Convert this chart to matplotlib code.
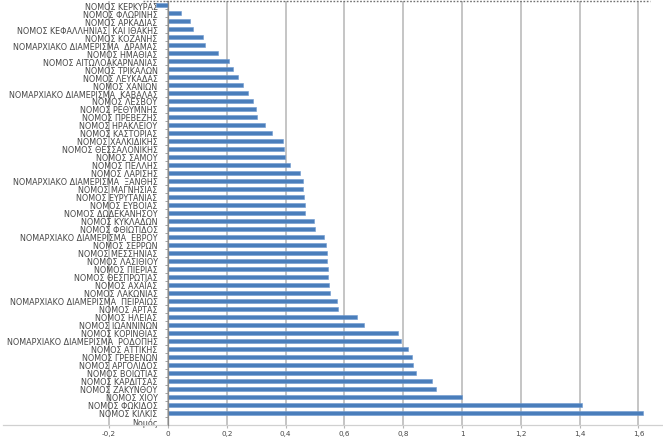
import matplotlib
matplotlib.use("Agg")
import matplotlib.pyplot as plt
from matplotlib.lines import Line2D
from matplotlib.ticker import FixedLocator
import numpy as np

categories = [
    "ΝΟΜΟΣ ΚΕΡΚΥΡΑΣ",
    "ΝΟΜΟΣ ΦΛΩΡΙΝΗΣ",
    "ΝΟΜΟΣ ΑΡΚΑΔΙΑΣ",
    "ΝΟΜΟΣ ΚΕΦΑΛΛΗΝΙΑΣ  ΚΑΙ ΙΘΑΚΗΣ",
    "ΝΟΜΟΣ ΚΟΖΑΝΗΣ",
    "ΝΟΜΑΡΧΙΑΚΟ ΔΙΑΜΕΡΙΣΜΑ  ΔΡΑΜΑΣ",
    "ΝΟΜΟΣ ΗΜΑΘΙΑΣ",
    "ΝΟΜΟΣ ΑΙΤΩΛΟΑΚΑΡΝΑΝΙΑΣ",
    "ΝΟΜΟΣ ΤΡΙΚΑΛΩΝ",
    "ΝΟΜΟΣ ΛΕΥΚΑΔΑΣ",
    "ΝΟΜΟΣ ΧΑΝΙΩΝ",
    "ΝΟΜΑΡΧΙΑΚΟ ΔΙΑΜΕΡΙΣΜΑ  ΚΑΒΑΛΑΣ",
    "ΝΟΜΟΣ ΛΕΣΒΟΥ",
    "ΝΟΜΟΣ ΡΕΘΥΜΝΗΣ",
    "ΝΟΜΟΣ ΠΡΕΒΕΖΗΣ",
    "ΝΟΜΟΣ ΗΡΑΚΛΕΙΟΥ",
    "ΝΟΜΟΣ ΚΑΣΤΟΡΙΑΣ",
    "ΝΟΜΟΣ ΧΑΛΚΙΔΙΚΗΣ",
    "ΝΟΜΟΣ ΘΕΣΣΑΛΟΝΙΚΗΣ",
    "ΝΟΜΟΣ ΣΑΜΟΥ",
    "ΝΟΜΟΣ ΠΕΛΛΗΣ",
    "ΝΟΜΟΣ ΛΑΡΙΣΗΣ",
    "ΝΟΜΑΡΧΙΑΚΟ ΔΙΑΜΕΡΙΣΜΑ  ΞΑΝΘΗΣ",
    "ΝΟΜΟΣ ΜΑΓΝΗΣΙΑΣ",
    "ΝΟΜΟΣ ΕΥΡΥΤΑΝΙΑΣ",
    "ΝΟΜΟΣ ΕΥΒΟΙΑΣ",
    "ΝΟΜΟΣ ΔΩΔΕΚΑΝΗΣΟΥ",
    "ΝΟΜΟΣ ΚΥΚΛΑΔΩΝ",
    "ΝΟΜΟΣ ΦΘΙΩΤΙΔΟΣ",
    "ΝΟΜΑΡΧΙΑΚΟ ΔΙΑΜΕΡΙΣΜΑ  ΕΒΡΟΥ",
    "ΝΟΜΟΣ ΣΕΡΡΩΝ",
    "ΝΟΜΟΣ ΜΕΣΣΗΝΙΑΣ",
    "ΝΟΜΟΣ ΛΑΣΙΘΙΟΥ",
    "ΝΟΜΟΣ ΠΙΕΡΙΑΣ",
    "ΝΟΜΟΣ ΘΕΣΠΡΩΤΙΑΣ",
    "ΝΟΜΟΣ ΑΧΑΪΑΣ",
    "ΝΟΜΟΣ ΛΑΚΩΝΙΑΣ",
    "ΝΟΜΑΡΧΙΑΚΟ ΔΙΑΜΕΡΙΣΜΑ  ΠΕΙΡΑΙΩΣ",
    "ΝΟΜΟΣ ΑΡΤΑΣ",
    "ΝΟΜΟΣ ΗΛΕΙΑΣ",
    "ΝΟΜΟΣ ΙΩΑΝΝΙΝΩΝ",
    "ΝΟΜΟΣ ΚΟΡΙΝΘΙΑΣ",
    "ΝΟΜΑΡΧΙΑΚΟ ΔΙΑΜΕΡΙΣΜΑ  ΡΟΔΟΠΗΣ",
    "ΝΟΜΟΣ ΑΤΤΙΚΗΣ",
    "ΝΟΜΟΣ ΓΡΕΒΕΝΩΝ",
    "ΝΟΜΟΣ ΑΡΓΟΛΙΔΟΣ",
    "ΝΟΜΟΣ ΒΟΙΩΤΙΑΣ",
    "ΝΟΜΟΣ ΚΑΡΔΙΤΣΑΣ",
    "ΝΟΜΟΣ ΖΑΚΥΝΘΟΥ",
    "ΝΟΜΟΣ ΧΙΟΥ",
    "ΝΟΜΟΣ ΦΩΚΙΔΟΣ",
    "ΝΟΜΟΣ ΚΙΛΚΙΣ",
    "Νομός",
]

values = [
    -0.041, 0.045, 0.076, 0.084, 0.119, 0.126, 0.170, 0.209, 0.221, 0.237,
    0.254, 0.272, 0.290, 0.298, 0.303, 0.330, 0.354, 0.390, 0.393, 0.399,
    0.416, 0.449, 0.458, 0.458, 0.461, 0.466, 0.467, 0.497, 0.500, 0.530,
    0.537, 0.541, 0.541, 0.544, 0.545, 0.547, 0.551, 0.574, 0.578, 0.644,
    0.666, 0.784, 0.792, 0.815, 0.829, 0.835, 0.845, 0.897, 0.913, 1.000,
    1.407, 1.615, 0.0,
]

x_ticks = [-0.2, 0.0, 0.2, 0.4, 0.6, 0.8, 1.0, 1.2, 1.4, 1.6]
x_tick_labels = ["-0,2", "0", "0,2", "0,4", "0,6", "0,8", "1", "1,2", "1,4", "1,6"]

plt.rcParams['font.family'] = ['DejaVu Sans']

W, H = 663, 439
fig = plt.figure(figsize=(W / 100, H / 100), dpi=100)
fig.patch.set_facecolor('white')

ax_left_px, ax_right_px, ax_top_px, ax_bot_px = 3, 663, 2, 426
ax = fig.add_axes([ax_left_px / W, (H - ax_bot_px) / H,
                   (ax_right_px - ax_left_px) / W, (ax_bot_px - ax_top_px) / H])

# position the category axis at x = 0 first (this resets tick objects)
ax.spines['left'].set_position(('data', 0))
ax.spines['left'].set_color('#8a8a8a')
ax.spines['left'].set_linewidth(0.9)
ax.spines['left'].set_zorder(4)
ax.spines['bottom'].set_color('#d0d0d0')
ax.spines['bottom'].set_linewidth(0.9)
ax.spines['top'].set_visible(False)
ax.spines['right'].set_visible(False)

y = np.arange(len(categories))
ax.barh(y, values, height=0.45, color='#4A7EBB', edgecolor='#6f9ad0',
        linewidth=0.4, zorder=3)

zero_px, unit_px = 168, 294
ax.set_xlim((ax_left_px - zero_px) / unit_px, (ax_right_px - zero_px) / unit_px)
ax.set_ylim(len(categories) - 0.5, -0.5)

ax.xaxis.set_major_locator(FixedLocator(x_ticks))
ax.set_xticklabels(x_tick_labels)
ax.grid(axis='x', color='#b5b5b5', linewidth=1.1, zorder=0)
ax.set_axisbelow(True)

ax.set_yticks(y)
ax.set_yticklabels(categories)
ax.set_yticks(np.arange(len(categories) + 1) - 0.5, minor=True)
ax.tick_params(axis='y', which='major', length=0, pad=7.5,
               labelsize=5.8, labelcolor='#474747')
ax.tick_params(axis='y', which='minor', length=2.5, color='#909090', width=0.6)
ax.tick_params(axis='x', length=2, color='#b5b5b5', width=0.8, pad=1.5,
               labelsize=5.2, labelcolor='#474747')

# dotted chart border at the top
fig.add_artist(Line2D([143 / W, 650 / W], [1 - 1.5 / H, 1 - 1.5 / H],
                      transform=fig.transFigure, color='#707070',
                      linestyle=(0, (1.2, 1.2)), linewidth=1.0))

fig.savefig('out.png', dpi=100)
